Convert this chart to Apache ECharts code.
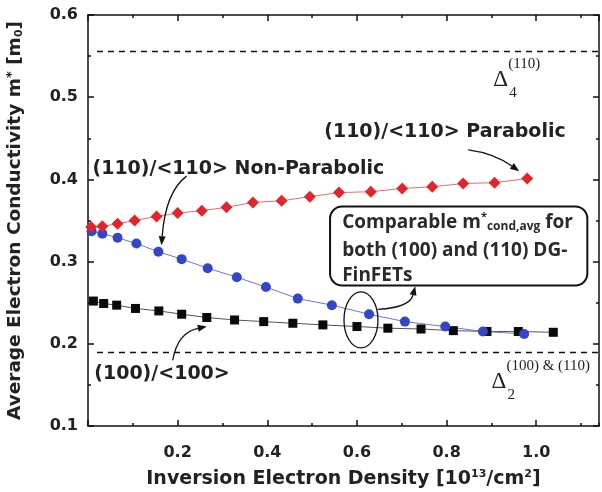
<!DOCTYPE html>
<html>
<head>
<meta charset="UTF-8">
<title>Conductivity mass</title>
<script src="https://cdn.jsdelivr.net/npm/echarts@6/dist/echarts.min.js"></script>
</head>
<body style="margin:0;background:#fff;">
<div id="main" style="width:602px;height:492px;"></div>
<script>
    // (110)/<110> parabolic  [density, m*]
    var parabolic = [
        [0.007, 0.342], [0.032, 0.343], [0.066, 0.346], [0.104, 0.350], [0.153, 0.355],
        [0.200, 0.359], [0.254, 0.362], [0.309, 0.366], [0.368, 0.372], [0.432, 0.374],
        [0.495, 0.379], [0.560, 0.384], [0.631, 0.385], [0.701, 0.389], [0.768, 0.391],
        [0.837, 0.395], [0.907, 0.396], [0.980, 0.401]
    ];
    // (110)/<110> non-parabolic
    var nonParabolic = [
        [0.008, 0.337], [0.032, 0.334], [0.066, 0.329], [0.108, 0.322], [0.157, 0.312],
        [0.209, 0.303], [0.267, 0.292], [0.332, 0.281], [0.397, 0.269], [0.468, 0.255],
        [0.544, 0.247], [0.627, 0.236], [0.707, 0.227], [0.797, 0.221], [0.881, 0.215],
        [0.973, 0.212]
    ];
    // (100)/<100>
    var dir100 = [
        [0.012, 0.252], [0.035, 0.249], [0.064, 0.247], [0.106, 0.243], [0.158, 0.240],
        [0.209, 0.236], [0.265, 0.232], [0.327, 0.229], [0.392, 0.227], [0.457, 0.225],
        [0.524, 0.223], [0.600, 0.221], [0.669, 0.219], [0.743, 0.218], [0.815, 0.216],
        [0.890, 0.215], [0.960, 0.215], [1.038, 0.214]
    ];
    var delta4Level = 0.556;
    var delta2Level = 0.190;
    var xMajor = [0.2, 0.4, 0.6, 0.8, 1.0];
    var yMajor = [0.1, 0.2, 0.3, 0.4, 0.5, 0.6];

    var font = '"DejaVu Sans", Verdana, sans-serif';
    var serif = '"Liberation Serif", "Times New Roman", serif';
    var boxFont = '"Open Sans", sans-serif';
    var lineCol = '#111';
    var txtCol = '#222';

    var myChart = echarts.init(document.getElementById('main'));

    function baseX(extra) {
        return Object.assign({
            type: 'value', min: 0, max: 1.14, gridIndex: 0,
            axisLine: {show: true, onZero: false, lineStyle: {color: lineCol, width: 1.5}},
            axisTick: {show: true, inside: true, length: 6, lineStyle: {color: lineCol, width: 1.5}},
            axisLabel: {show: false},
            splitLine: {show: false}
        }, extra);
    }
    function baseY(extra) {
        return Object.assign({
            type: 'value', min: 0.1, max: 0.6, interval: 0.1, gridIndex: 0,
            axisLine: {show: true, onZero: false, lineStyle: {color: lineCol, width: 1.5}},
            axisTick: {show: true, inside: true, length: 6, lineStyle: {color: lineCol, width: 1.5}},
            minorTick: {show: true, splitNumber: 2, length: 3, lineStyle: {color: lineCol, width: 1.5}},
            axisLabel: {show: false},
            splitLine: {show: false}
        }, extra);
    }

    var minorTickX = {show: true, inside: true, length: 3, lineStyle: {color: lineCol, width: 1.5}};

    function pick(list) {
        return function (v) {
            for (var i = 0; i < list.length; i++) {
                if (Math.abs(v - list[i]) < 1e-6) return list[i].toFixed(1);
            }
            return '';
        };
    }

    var option = {
        backgroundColor: '#fff',
        animation: false,
        grid: {left: 88, right: 3, top: 15, bottom: 66, containLabel: false, outerBoundsMode: 'none'},
        xAxis: [
            baseX({
                position: 'bottom', interval: 0.2,
                axisLabel: {
                    show: true, margin: 19, color: txtCol, fontFamily: font, fontWeight: 'bold', fontSize: 16,
                    showMaxLabel: false, formatter: pick(xMajor)
                },
                name: '{b|Inversion Electron Density [10}{s|13}{b|/cm}{s|2}{b|]}',
                nameLocation: 'middle', nameGap: 41,
                nameTextStyle: {
                    rich: {
                        b: {fontFamily: font, fontWeight: 'bold', fontSize: 19, color: txtCol, lineHeight: 24},
                        s: {fontFamily: font, fontWeight: 'bold', fontSize: 11, color: txtCol, lineHeight: 24, padding: [0, 0, 10, 0]}
                    }
                }
            }),
            baseX({position: 'top', interval: 0.2}),
            baseX({position: 'bottom', interval: 0.1, axisLine: {show: false}, axisTick: minorTickX}),
            baseX({position: 'top', interval: 0.1, axisLine: {show: false}, axisTick: minorTickX})
        ],
        yAxis: [
            baseY({
                position: 'left',
                axisLabel: {
                    show: true, margin: 10, color: txtCol, fontFamily: font, fontWeight: 'bold', fontSize: 16,
                    formatter: pick(yMajor)
                },
                name: '{b|Average Electron Conductivity m}{s|*}{b| [m}{u|0}{b|]}',
                nameLocation: 'middle', nameGap: 62, nameRotate: 90,
                nameTextStyle: {
                    rich: {
                        b: {fontFamily: font, fontWeight: 'bold', fontSize: 18.5, color: txtCol, lineHeight: 22},
                        s: {fontFamily: font, fontWeight: 'bold', fontSize: 13, color: txtCol, lineHeight: 22, padding: [0, 0, 6, 0]},
                        u: {fontFamily: font, fontWeight: 'bold', fontSize: 11, color: txtCol, lineHeight: 22, padding: [8, 0, 0, 0]}
                    }
                }
            }),
            baseY({position: 'right'})
        ],
        series: [
            {
                name: '(100)/<100>', type: 'line', data: dir100,
                symbol: 'rect', symbolSize: 9,
                itemStyle: {color: '#0a0a0a'},
                lineStyle: {color: '#555', width: 1},
                markLine: {
                    silent: true, symbol: 'none', label: {show: false},
                    lineStyle: {color: '#111', type: [6, 5], width: 1.3},
                    data: [
                        [{coord: [0.02, delta4Level]}, {coord: [1.14, delta4Level]}],
                        [{coord: [0.02, delta2Level]}, {coord: [1.14, delta2Level]}]
                    ]
                }
            },
            {
                name: '(110)/<110> Non-Parabolic', type: 'line', data: nonParabolic,
                symbol: 'circle', symbolSize: 10,
                itemStyle: {color: '#3346c8'},
                lineStyle: {color: '#6a78d8', width: 1}
            },
            {
                name: '(110)/<110> Parabolic', type: 'line', data: parabolic,
                symbol: 'diamond', symbolSize: 12,
                itemStyle: {color: '#e3242b'},
                lineStyle: {color: '#f06a6a', width: 1}
            }
        ]
    };

    myChart.setOption(option);

    // annotations, anchored in data coordinates
    function P(x, y) {
        return myChart.convertToPixel({gridIndex: 0}, [x, y]);
    }
    function label(x, y, text) {
        var p = P(x, y);
        return {
            type: 'text', x: p[0], y: p[1], z: 50,
            style: {
                text: text, font: 'bold 19px ' + font, fill: txtCol,
                align: 'left', verticalAlign: 'middle'
            }
        };
    }
    function arrow(a, c, b) {
        var p1 = P(a[0], a[1]), pc = P(c[0], c[1]), p2 = P(b[0], b[1]);
        var ang = Math.atan2(p2[1] - pc[1], p2[0] - pc[0]);
        var L = 9, W = 3.5;
        var bx = p2[0] - L * Math.cos(ang), by = p2[1] - L * Math.sin(ang);
        var nx = -Math.sin(ang) * W, ny = Math.cos(ang) * W;
        return [
            {
                type: 'bezierCurve', z: 50,
                shape: {x1: p1[0], y1: p1[1], cpx1: pc[0], cpy1: pc[1], x2: bx, y2: by},
                style: {stroke: '#111', lineWidth: 1.3, fill: null}
            },
            {
                type: 'polygon', z: 50,
                shape: {points: [[p2[0], p2[1]], [bx + nx, by + ny], [bx - nx, by - ny]]},
                style: {fill: '#111'}
            }
        ];
    }
    function delta(x, y, sup, sub) {
        var p = P(x, y);
        return [
            {type: 'text', x: p[0], y: p[1], z: 50,
                style: {text: 'Δ', font: '23px ' + serif, fill: txtCol, align: 'left', verticalAlign: 'middle'}},
            {type: 'text', x: p[0] + 15, y: p[1] - 16, z: 50,
                style: {text: sup, font: '15px ' + serif, fill: txtCol, align: 'left', verticalAlign: 'middle'}},
            {type: 'text', x: p[0] + 16, y: p[1] + 13, z: 50,
                style: {text: sub, font: '15px ' + serif, fill: txtCol, align: 'left', verticalAlign: 'middle'}}
        ];
    }

    var boxTL = P(0.540, 0.367), boxBR = P(1.114, 0.271);
    var ell = P(0.609, 0.229);

    var g = [];
    g.push(label(0.527, 0.457, '(110)/<110> Parabolic'));
    g = g.concat(arrow([0.848, 0.436], [0.905, 0.432], [0.962, 0.410]));
    g.push(label(0.010, 0.412, '(110)/<110> Non-Parabolic'));
    g = g.concat(arrow([0.220, 0.404], [0.173, 0.385], [0.164, 0.320]));
    g.push(label(0.014, 0.163, '(100)/<100>'));
    g = g.concat(arrow([0.189, 0.180], [0.200, 0.214], [0.265, 0.221]));
    g = g.concat(delta(0.904, 0.521, '(110)', '4'));
    g = g.concat(delta(0.900, 0.154, '(100) & (110)', '2'));
    g.push({
        type: 'rect', z: 49,
        shape: {x: boxTL[0], y: boxTL[1], width: boxBR[0] - boxTL[0], height: boxBR[1] - boxTL[1], r: 12},
        style: {fill: '#fff', stroke: '#111', lineWidth: 2}
    });
    var tx = P(0.567, 0)[0];
    var boxRich = {
        t: {font: 'bold 19px ' + boxFont, fill: '#2a2a2a', lineHeight: 24},
        s: {font: 'bold 11px ' + boxFont, fill: '#2a2a2a', lineHeight: 24, padding: [0, 0, 12, 0]},
        u: {font: 'bold 12px ' + boxFont, fill: '#2a2a2a', lineHeight: 24, padding: [8, 0, 0, 0]}
    };
    g.push({
        type: 'text', x: tx, y: boxTL[1] + 16, z: 50,
        style: {text: '{t|Comparable m}{s|*}{u|cond,avg}{t| for}', align: 'left', verticalAlign: 'middle', rich: boxRich}
    });
    g.push({
        type: 'text', x: tx, y: boxTL[1] + 44, z: 50,
        style: {text: 'both (100) and (110) DG-', font: 'bold 19px ' + boxFont, fill: '#2a2a2a', align: 'left', verticalAlign: 'middle'}
    });
    g.push({
        type: 'text', x: tx, y: boxTL[1] + 69, z: 50,
        style: {text: 'FinFETs', font: 'bold 19px ' + boxFont, fill: '#2a2a2a', align: 'left', verticalAlign: 'middle'}
    });
    g.push({
        type: 'ellipse', z: 50,
        shape: {cx: ell[0], cy: ell[1], rx: 17, ry: 28},
        style: {fill: null, stroke: '#111', lineWidth: 1.3}
    });
    g = g.concat(arrow([0.647, 0.242], [0.718, 0.244], [0.730, 0.270]));

    myChart.setOption({graphic: g});
</script>
</body>
</html>
